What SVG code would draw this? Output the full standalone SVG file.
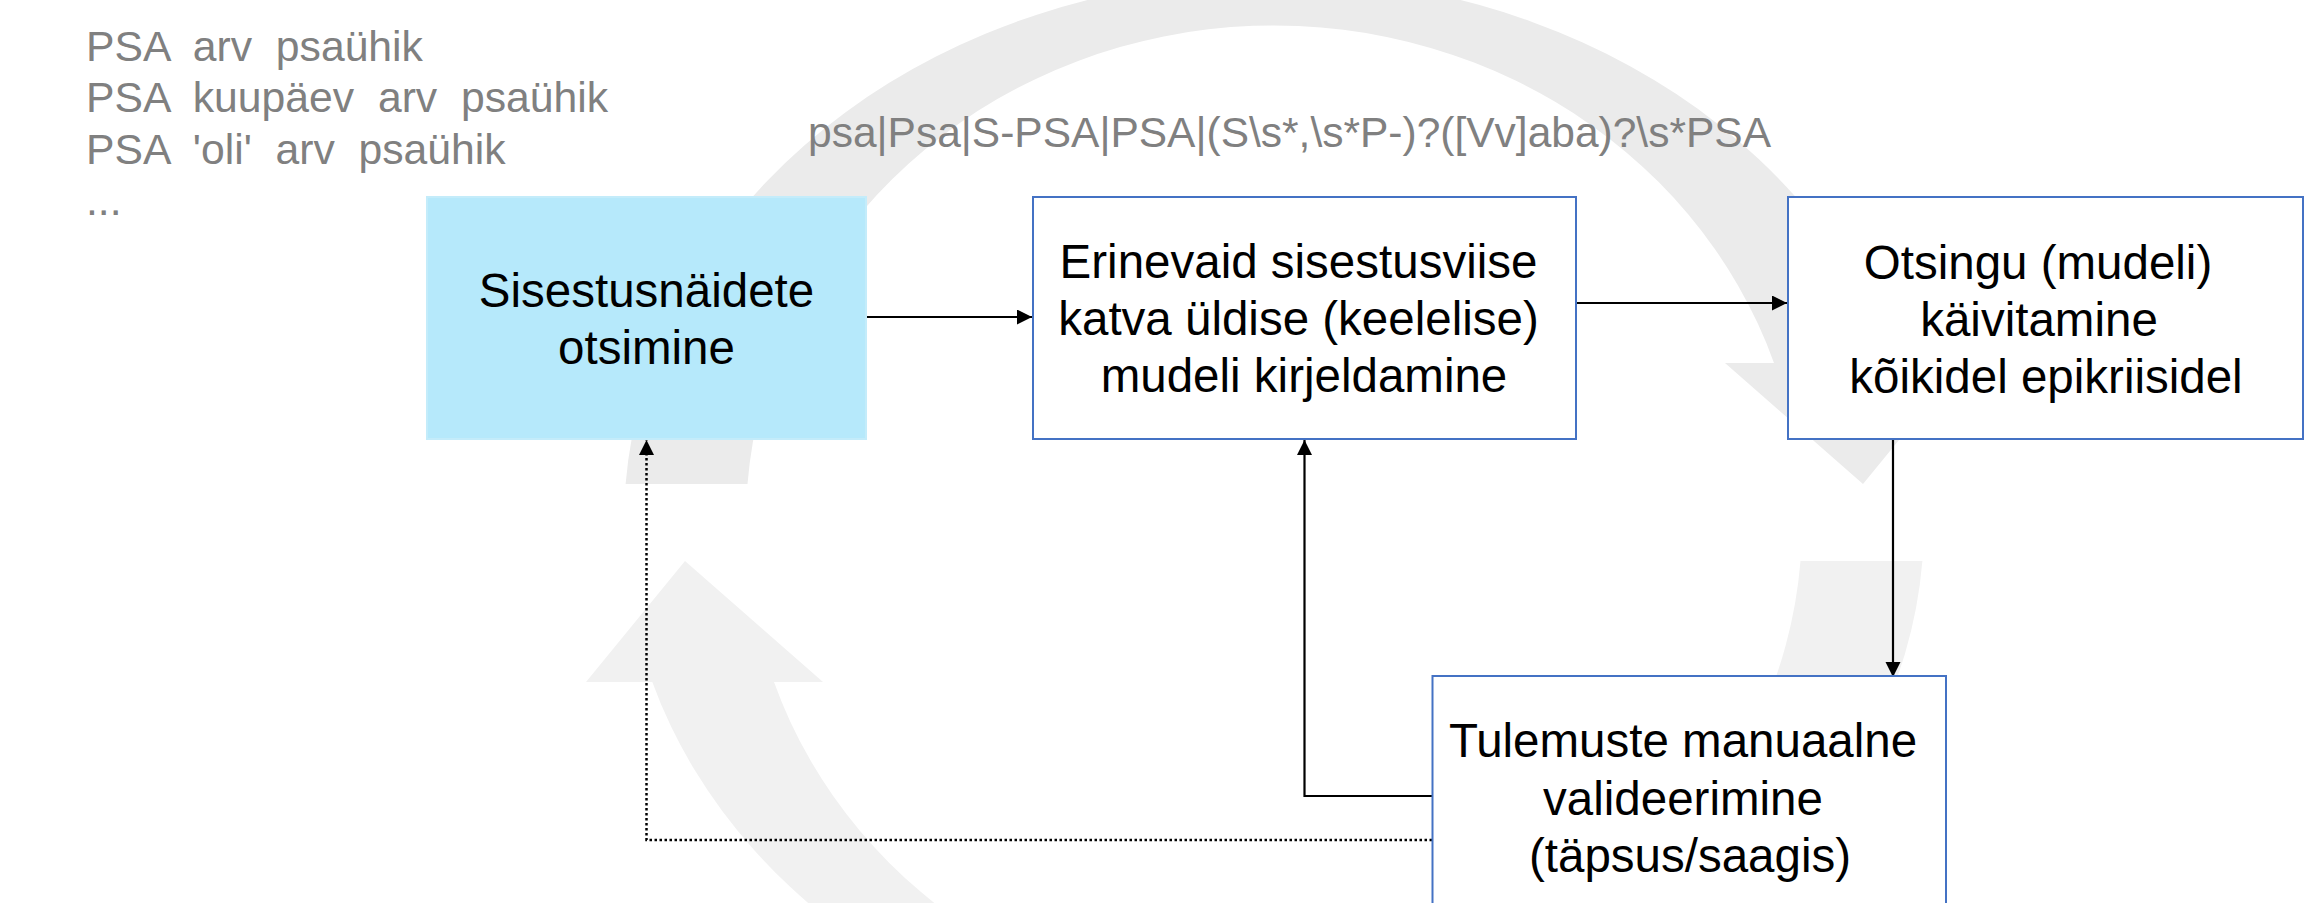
<svg xmlns="http://www.w3.org/2000/svg" width="2311" height="903" viewBox="0 0 2311 903">
<style>
.bg{font-family:"Liberation Sans",Arial,sans-serif;font-size:42.7px;fill:#808080;white-space:pre}
.rx{font-size:42.5px}
.lbl{font-family:"Liberation Sans",Arial,sans-serif;font-size:47.5px;fill:#000;text-anchor:middle;white-space:pre}
.box{fill:#fff;stroke:#4472c4;stroke-width:2}
.con{fill:none;stroke:#000;stroke-width:2.2}
.dot{fill:none;stroke:#000;stroke-width:2.5;stroke-dasharray:2.5 2.5}
</style>
<defs>
<marker id="ah" markerUnits="userSpaceOnUse" markerWidth="16" markerHeight="16" refX="15" refY="7.5" orient="auto">
<path d="M0,0 L15,7.5 L0,15 z" fill="#000"/>
</marker>
<path id="arc" d="M625.6,484 A650,545 0 0 1 1895.7,363 L1962,363 L1863,484 L1725,363 L1774,363 A528,497 0 0 0 747.5,484 Z"/>
</defs>
<g id="background">
<use href="#arc" fill="#ebebeb"/>
<use href="#arc" fill="#f1f1f1" transform="rotate(180 1274 522.5)"/>
</g>
<g id="notes">
<text class="bg" x="86" y="61">PSA  arv  psaühik</text>
<text class="bg" x="86" y="112">PSA  kuupäev  arv  psaühik</text>
<text class="bg" x="86" y="164">PSA  'oli'  arv  psaühik</text>
<text class="bg" x="86" y="215">...</text>
<text class="bg rx" x="808" y="147">psa|Psa|S-PSA|PSA|(S\s*,\s*P-)?([Vv]aba)?\s*PSA</text>
</g>
<g id="connectors">
<path class="con" d="M866,317 L1032,317" marker-end="url(#ah)"/>
<path class="con" d="M1576,303 L1787,303" marker-end="url(#ah)"/>
<path class="con" d="M1893,439 L1893,677" marker-end="url(#ah)"/>
<path class="con" d="M1432,796 L1304.5,796 L1304.5,440" marker-end="url(#ah)"/>
<path class="dot" d="M1432,840 L646.5,840 L646.5,440" marker-end="url(#ah)"/>
</g>
<g id="node-sisestus">
<rect x="427" y="197" width="439" height="242" fill="#b6e9fb" stroke="#c4ecfa" stroke-width="2"/>
<text class="lbl" x="646.5" y="307">Sisestusnäidete</text>
<text class="lbl" x="646.5" y="364">otsimine</text>
</g>
<g id="node-mudel">
<rect class="box" x="1033" y="197" width="543" height="242"/>
<text class="lbl" x="1298.5" y="278">Erinevaid sisestusviise</text>
<text class="lbl" x="1298.5" y="335">katva üldise (keelelise)</text>
<text class="lbl" x="1304" y="392">mudeli kirjeldamine</text>
</g>
<g id="node-otsing">
<rect class="box" x="1788" y="197" width="515" height="242"/>
<text class="lbl" x="2038" y="279">Otsingu (mudeli)</text>
<text class="lbl" x="2039" y="336">käivitamine</text>
<text class="lbl" x="2046" y="393">kõikidel epikriisidel</text>
</g>
<g id="node-valideerimine">
<rect class="box" x="1432.5" y="676" width="513.5" height="300"/>
<text class="lbl" x="1683" y="757">Tulemuste manuaalne</text>
<text class="lbl" x="1683" y="815">valideerimine</text>
<text class="lbl" x="1690" y="872">(täpsus/saagis)</text>
</g>
</svg>
